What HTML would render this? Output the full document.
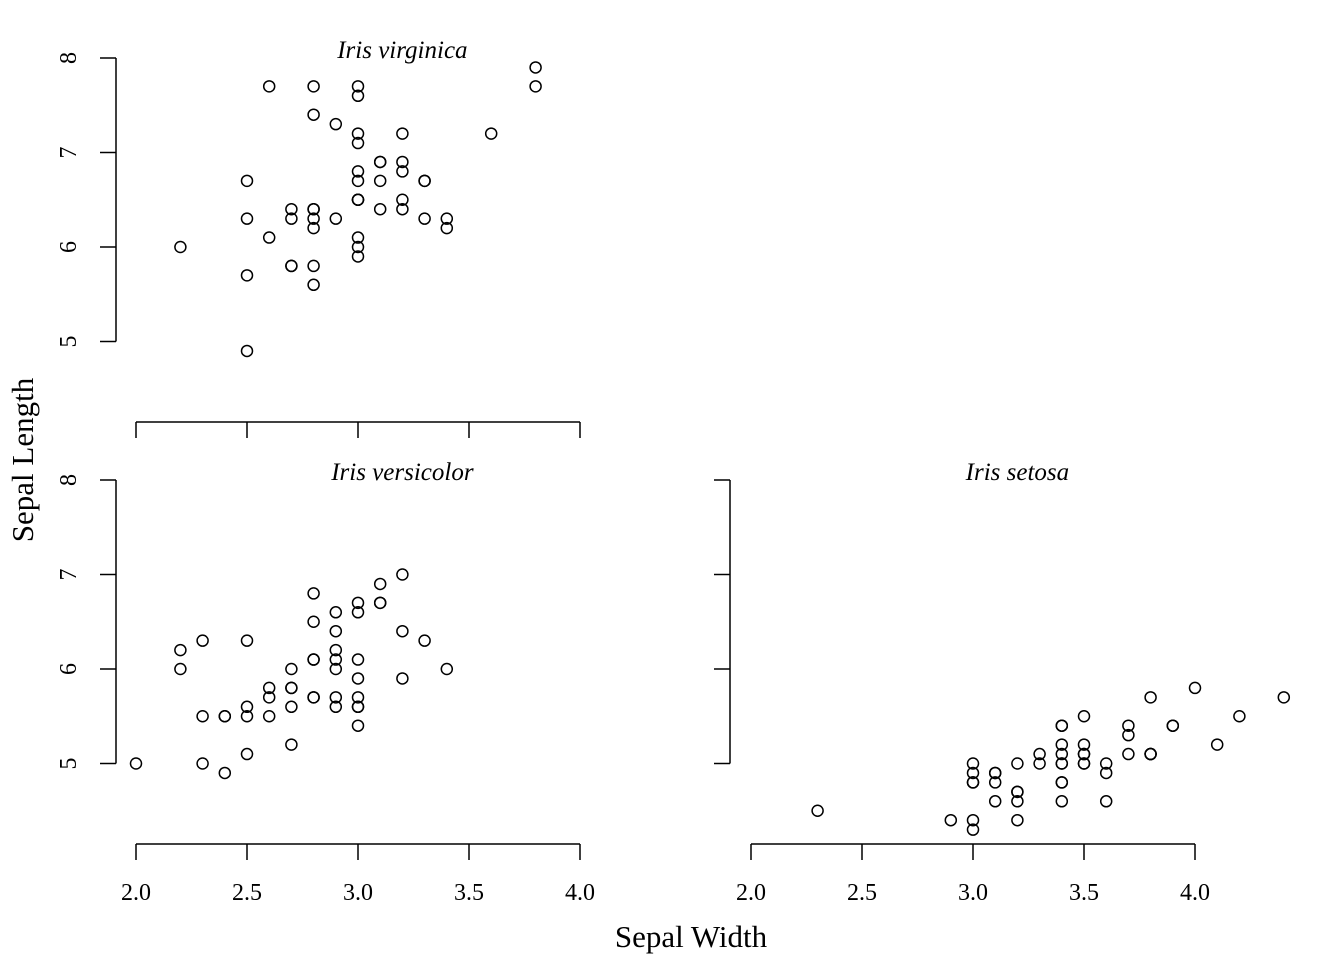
<!DOCTYPE html>
<html><head><meta charset="utf-8"><style>
body{margin:0;background:#fff}
svg text{font-family:"Liberation Serif",serif;fill:#000}
</style></head><body>
<svg id="c" width="1344" height="960"></svg>
<script>
const speciesNames=["Iris virginica","Iris versicolor","Iris setosa"];
const xTicks=[2.0,2.5,3.0,3.5,4.0];
const yTicks=[5,6,7,8];
const virginicaLen=[6.3,5.8,7.1,6.3,6.5,7.6,4.9,7.3,6.7,7.2,6.5,6.4,6.8,5.7,5.8,6.4,6.5,7.7,7.7,6.0,6.9,5.6,7.7,6.3,6.7,7.2,6.2,6.1,6.4,7.2,7.4,7.9,6.4,6.3,6.1,7.7,6.3,6.4,6.0,6.9,6.7,6.9,5.8,6.8,6.7,6.7,6.3,6.5,6.2,5.9];
const virginicaWid=[3.3,2.7,3.0,2.9,3.0,3.0,2.5,2.9,2.5,3.6,3.2,2.7,3.0,2.5,2.8,3.2,3.0,3.8,2.6,2.2,3.2,2.8,2.8,2.7,3.3,3.2,2.8,3.0,2.8,3.0,2.8,3.8,2.8,2.8,2.6,3.0,3.4,3.1,3.0,3.1,3.1,3.1,2.7,3.2,3.3,3.0,2.5,3.0,3.4,3.0];
const versicolorLen=[7.0,6.4,6.9,5.5,6.5,5.7,6.3,4.9,6.6,5.2,5.0,5.9,6.0,6.1,5.6,6.7,5.6,5.8,6.2,5.6,5.9,6.1,6.3,6.1,6.4,6.6,6.8,6.7,6.0,5.7,5.5,5.5,5.8,6.0,5.4,6.0,6.7,6.3,5.6,5.5,5.5,6.1,5.8,5.0,5.6,5.7,5.7,6.2,5.1,5.7];
const versicolorWid=[3.2,3.2,3.1,2.3,2.8,2.8,3.3,2.4,2.9,2.7,2.0,3.0,2.2,2.9,2.9,3.1,3.0,2.7,2.2,2.5,3.2,2.8,2.5,2.8,2.9,3.0,2.8,3.0,2.9,2.6,2.4,2.4,2.7,2.7,3.0,3.4,3.1,2.3,3.0,2.5,2.6,3.0,2.6,2.3,2.7,3.0,2.9,2.9,2.5,2.8];
const setosaLen=[5.1,4.9,4.7,4.6,5.0,5.4,4.6,5.0,4.4,4.9,5.4,4.8,4.8,4.3,5.8,5.7,5.4,5.1,5.7,5.1,5.4,5.1,4.6,5.1,4.8,5.0,5.0,5.2,5.2,4.7,4.8,5.4,5.2,5.5,4.9,5.0,5.5,4.9,4.4,5.1,5.0,4.5,4.4,5.0,5.1,4.8,5.1,4.6,5.3,5.0];
const setosaWid=[3.5,3.0,3.2,3.1,3.6,3.9,3.4,3.4,2.9,3.1,3.7,3.4,3.0,3.0,4.0,4.4,3.9,3.5,3.8,3.8,3.4,3.7,3.6,3.3,3.4,3.0,3.4,3.5,3.4,3.2,3.1,3.4,4.1,4.2,3.1,3.2,3.5,3.6,3.0,3.4,3.5,2.3,3.2,3.5,3.8,3.0,3.8,3.2,3.7,3.3];

const NS="http://www.w3.org/2000/svg";
const svg=document.getElementById('c');
function mk(t,a,p){const e=document.createElementNS(NS,t);for(const k in a)e.setAttribute(k,a[k]);(p||svg).appendChild(e);return e;}
const panels=[
 {name:speciesNames[0],x0:136,top:58,len:virginicaLen,wid:virginicaWid,xaxY:422,labels:false,ylabels:true,yax:116,key:'virginica'},
 {name:speciesNames[1],x0:136,top:480,len:versicolorLen,wid:versicolorWid,xaxY:844,labels:true,ylabels:true,yax:116,key:'versicolor'},
 {name:speciesNames[2],x0:751,top:480,len:setosaLen,wid:setosaWid,xaxY:844,labels:true,ylabels:false,yax:730,key:'setosa'}];
panels.forEach(p=>{
  const g=mk('g',{});
  
  
  const sx=v=>p.x0+(v-2)*222;
  const sy=v=>p.top+(8-v)*94.5;
  const ya=mk('path',{d:`M${p.yax} ${sy(5)}V${sy(8)}`,stroke:'#000','stroke-width':1.5,fill:'none'},g);
  
  
  yTicks.forEach(t=>{
    mk('path',{d:`M${p.yax-16} ${sy(t)}H${p.yax}`,stroke:'#000','stroke-width':1.5},g);
    if(p.ylabels){
      const tx=mk('text',{x:0,y:0,'font-size':24,'text-anchor':'middle',transform:`translate(${p.yax-40},${sy(t)}) rotate(-90)`},g);
      tx.textContent=t;
      
      
    }
  });
  const xa=mk('path',{d:`M${sx(2)} ${p.xaxY}H${sx(4)}`,stroke:'#000','stroke-width':1.5,fill:'none'},g);
  
  
  xTicks.forEach(t=>{
    mk('path',{d:`M${sx(t)} ${p.xaxY}V${p.xaxY+16}`,stroke:'#000','stroke-width':1.5},g);
    if(p.labels){
      const tx=mk('text',{x:sx(t),y:p.xaxY+56,'font-size':24,'text-anchor':'middle'},g);
      tx.textContent=t.toFixed(1);
      
      
    }
  });
  const title=mk('text',{x:sx(3.2),y:p.top,'font-size':25,'font-style':'italic','text-anchor':'middle'},g);
  title.textContent=p.name;
  
  
  p.len.forEach((l,i)=>{
    const c=mk('circle',{cx:sx(p.wid[i]),cy:sy(l),r:5.5,fill:'none',stroke:'#000','stroke-width':1.5},g);
    
    
  });
});
const xt=mk('text',{x:691,y:947,'font-size':31,'text-anchor':'middle'});
xt.textContent='Sepal Width';


const yt=mk('text',{x:0,y:0,'font-size':31,'text-anchor':'middle',transform:'translate(33,460) rotate(-90)'});
yt.textContent='Sepal Length';


</script>
</body></html>
